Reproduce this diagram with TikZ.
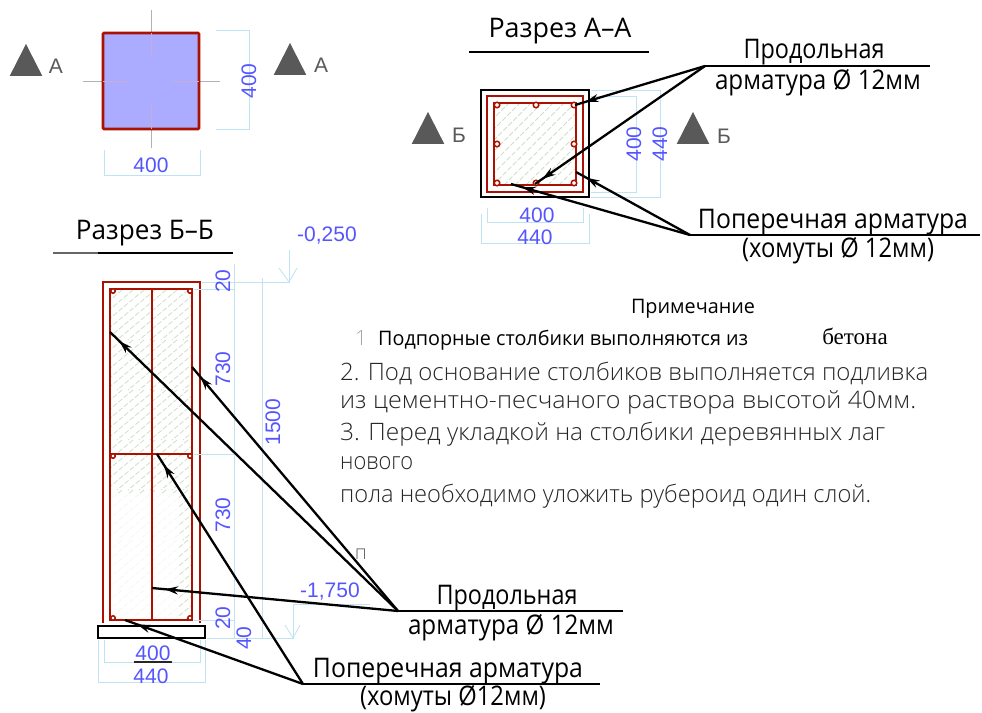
\documentclass[tikz,border=0pt]{standalone}
\usepackage{graphicx}
\usepackage{fontspec}
\setmainfont{Liberation Sans}
\newfontfamily\gost{Open Sans Light}
\newfontfamily\gostb{Open Sans}
\newfontfamily\serif{Liberation Serif}
\usetikzlibrary{arrows.meta,decorations.markings,shapes.geometric}
\definecolor{rc}{HTML}{AA1100}
\definecolor{dimtext}{HTML}{5555FF}
\definecolor{dimline}{HTML}{BFE3F2}
\definecolor{hatchc}{HTML}{CFE0C2}
\definecolor{trc}{HTML}{595959}
\newcommand\fitx[2]{\resizebox{#1pt}{\height}{#2}}
\tikzset{
  x=1pt,y=-1pt,
  rebar/.style={draw=rc,line width=2.8pt},
  bar/.style={draw=rc,line width=1.5pt,fill=white,circle,inner sep=0pt,minimum size=5.5pt},
  blackline/.style={draw=black,line width=2.3pt},
  lead/.style={draw=black,line width=2.3pt,postaction=decorate,
    decoration={markings,mark=at position -#1pt with {\arrow{Stealth[length=13pt,width=8pt]}}}},
  dimln/.style={draw=dimline,line width=0.8pt},
  dimtxt/.style={text=dimtext,font=\fontsize{21}{21}\selectfont,inner sep=0pt},
  rot/.style={rotate=90},
  title/.style={font=\gostb\fontsize{27}{27}\selectfont,inner sep=0pt,text=black},
  note/.style={font=\gost\fontsize{24}{24}\selectfont,inner sep=0pt,anchor=west,text=black!85},
  hatch/.style={draw=hatchc,line width=0.8pt,dash pattern=on 5pt off 2pt},
  secmark/.style={fill=trc,draw=none,isosceles triangle,isosceles triangle apex angle=54,shape border rotate=90,inner sep=0pt,minimum height=32pt},
  seclabel/.style={text=trc,font=\fontsize{21}{21}\selectfont,inner sep=0pt},
  centre/.style={draw=black!30,line width=1pt},
}
\begin{document}
\begin{tikzpicture}
\useasboundingbox[fill=white] (0,0) rectangle (982,712);

% ---------- plan
\draw[centre] (83,81) -- (220,81) (151,10) -- (151,148);
\draw[draw=rc,line width=2.6pt,fill=blue!33!white,rounded corners=1pt] (103,33) rectangle (199,129);
\draw[draw=rc!45!blue!33!white,line width=0.6pt] (103,81) -- (130,81) (172,81) -- (199,81) (151,33) -- (151,58) (151,102) -- (151,129);
\draw[dimln] (216,30) -- (249,30) -- (249,129) -- (216,129) (104,150) -- (104,175) -- (200,175) -- (200,150);
\node[dimtxt,rot] (p400v) at (249,81) {400};
\node[dimtxt] (p400h) at (151,165) {400};
\node[secmark] (ta1) at (26,66) {};
\node[seclabel] (la1) at (56,66) {А};
\node[secmark] (ta2) at (290,65) {};
\node[seclabel] (la2) at (321,65) {А};

% ---------- section A-A
\node[title] (tAA) at (560,31) {\fitx{143}{Разрез А–А}};
\draw[blackline] (469,52) -- (649,52);
\begin{scope}
  \clip (494,103) rectangle (576,185);
  \foreach \k in {0,11,...,190} {\draw[hatch] (400+\k,190) -- (490+\k,100);}
\end{scope}
\draw[blackline] (481,90) rectangle (589,197);
\draw[rebar] (487,96) rectangle (583,192);
\draw[rebar] (494,103) rectangle (576,185);
\foreach \n/\a/\b in {a1/497/105,a2/536/105,a3/574/105,a4/497/144,a5/574/144,a6/497/183,a7/536/183,a8/574/183}
  \node[bar] (\n) at (\a,\b) {};
\draw[dimln] (591,90) -- (660,90) -- (660,197) -- (591,197) (591,96) -- (636,96) -- (636,192) -- (591,192);
\draw[dimln] (487,208) -- (487,222) -- (583,222) -- (583,208) (481,214) -- (481,243) -- (589,243) -- (589,214);
\node[dimtxt,rot] (a400v) at (634,144) {400};
\node[dimtxt,rot] (a440v) at (660,144) {440};
\node[dimtxt] (a400h) at (537,215) {400};
\node[dimtxt] (a440h) at (535,237) {440};
\node[secmark] (tb1) at (428,134) {};
\node[seclabel] (lb1) at (459,135) {Б};
\node[secmark] (tb2) at (693,134) {};
\node[seclabel] (lb2) at (724,136) {Б};

\coordinate (apA) at (705,66);
\coordinate (apA2) at (930,66);
\coordinate (apB) at (690,235);
\coordinate (apB2) at (980,235);
\coordinate (e1) at (575,105);
\coordinate (e2) at (535,184);
\coordinate (e3) at (576,172);
\coordinate (e4) at (511,184);
\draw[lead=11] (apA) -- (e1);
\draw[lead=9] (apA) -- (e2);
\draw[lead=12] (apB) -- (e3);
\draw[lead=12] (apB) -- (e4);
\draw[blackline] (apA) -- (apA2);
\draw[blackline] (apB) -- (apB2);
\node[title] (t1) at (814,52) {\fitx{141}{Продольная}};
\node[title] (t2) at (818,83) {\fitx{206}{арматура Ø 12мм}};
\node[title] (t3) at (833,222) {\fitx{270}{Поперечная арматура}};
\node[title] (t4) at (838,251) {\fitx{192}{(хомуты Ø 12мм)}};

% ---------- section B-B
\node[title] (tBB) at (145,233) {\fitx{138}{Разрез Б–Б}};
\draw[blackline] (98,253) -- (233,253);
\draw[draw=black!60,line width=2.6pt] (53,253) -- (98,253);
\begin{scope}
  \clip (110,289) rectangle (192,620);
  \foreach \k in {0,11,...,440} {\draw[hatch] (100+\k,290) -- (40+\k,340) (100+\k,340) -- (40+\k,390) (100+\k,390) -- (40+\k,440) (100+\k,440) -- (40+\k,490) (100+\k,490) -- (40+\k,540) (100+\k,540) -- (40+\k,590) (100+\k,590) -- (40+\k,640);}
\end{scope}
\fill[white,opacity=.8] (104,494) rectangle (178,625);
\draw[rebar] (103,623) -- (103,282) -- (200,282) -- (200,623);
\draw[rebar] (110,289) rectangle (192,620);
\draw[rebar] (152,289) -- (152,620);
\draw[rebar] (110,454) -- (192,454);
\foreach \n/\a/\b in {b1/113/291,b2/190/291,b3/113/456,b4/190/456,b5/113/618,b6/190/618}
  \node[bar,minimum size=4.5pt] (\n) at (\a,\b) {};
\draw[draw=black,line width=2.3pt,fill=white] (98,626) rectangle (205,638);

\draw[dimln] (202,282) -- (289,282) -- (289,250);
\draw[dimln] (279,268) -- (289,282) -- (297,268);
\draw[dimln] (234,264) -- (234,638) (262,278) -- (262,638);
\draw[dimln] (194,289) -- (234,289) (194,454) -- (234,454) (194,620) -- (234,620) (207,638) -- (293,638) -- (293,604) -- (370,604);
\draw[dimln] (285,625) -- (293,638) -- (300,625);
\draw[dimln] (104,640) -- (104,662) -- (200,662) -- (200,640) (98,640) -- (98,682) -- (205,682) -- (205,640);
\node[dimtxt] (l250) at (327,236) {-0,250};
\node[dimtxt] (l1750) at (330,592) {-1,750};
\node[dimtxt,rot] (d20a) at (223,281) {20};
\node[dimtxt,rot] (d730a) at (223,369) {730};
\node[dimtxt,rot] (d1500) at (273,422) {1500};
\node[dimtxt,rot] (d730b) at (223,515) {730};
\node[dimtxt,rot] (d20b) at (223,618) {20};
\node[dimtxt,rot] (d40) at (244,638) {40};
\node[dimtxt] (b400) at (153,653) {400};
\node[dimtxt] (b440) at (151,676) {440};
\draw[draw=black!85,line width=1.2pt] (134,662) -- (172,662);
\node[inner sep=0pt,text=black!60,font=\gost\fontsize{20}{20}\selectfont] (pp) at (361,554) {п};

\coordinate (apC) at (398,611);
\coordinate (apC2) at (623,611);
\coordinate (apD) at (303,684);
\coordinate (apD2) at (600,684);
\coordinate (f1) at (110,332);
\coordinate (f2) at (192,367);
\coordinate (f3) at (152,588);
\coordinate (f4) at (157,454);
\coordinate (f5) at (125,620);
\draw[lead=13] (apC) -- (f1);
\draw[lead=13] (apC) -- (f2);
\draw[lead=13] (apC) -- (f3);
\draw[lead=13] (apD) -- (f4);
\draw[lead=13] (apD) -- (f5);
\draw[blackline] (apC) -- (apC2);
\draw[blackline] (apD) -- (apD2);
\node[title] (t5) at (507,598) {\fitx{141}{Продольная}};
\node[title] (t6) at (511,628) {\fitx{206}{арматура Ø 12мм}};
\node[title] (t7) at (448,671) {\fitx{270}{Поперечная арматура}};
\node[title] (t8) at (453,699) {\fitx{186}{(хомуты Ø12мм)}};

% ---------- notes
\node[inner sep=0pt,font=\gostb\fontsize{20}{20}\selectfont] (nt) at (693,309) {\fitx{124}{Примечание}};
\node[note,text=black!35,font=\gost\fontsize{21}{21}\selectfont] (n0) at (355,338) {1};
\node[note,font=\gostb\fontsize{20}{20}\selectfont,text=black] (n1) at (378,340) {\fitx{370}{Подпорные столбики выполняются из}};
\node[inner sep=0pt,font=\serif\fontsize{23}{23}\selectfont] (n1b) at (855,336) {бетона};
\node[note] (n2) at (340,373) {\fitx{588}{2. Под основание столбиков выполняется подливка}};
\node[note] (n3) at (340,402) {\fitx{576}{из цементно-песчаного раствора высотой  40мм.}};
\node[note] (n4) at (340,434) {\fitx{545}{3. Перед укладкой на столбики деревянных лаг}};
\node[note] (n5) at (340,463) {\fitx{73}{нового}};
\node[note] (n6) at (340,496) {\fitx{531}{пола необходимо уложить рубероид один слой.}};
\end{tikzpicture}
\end{document}
